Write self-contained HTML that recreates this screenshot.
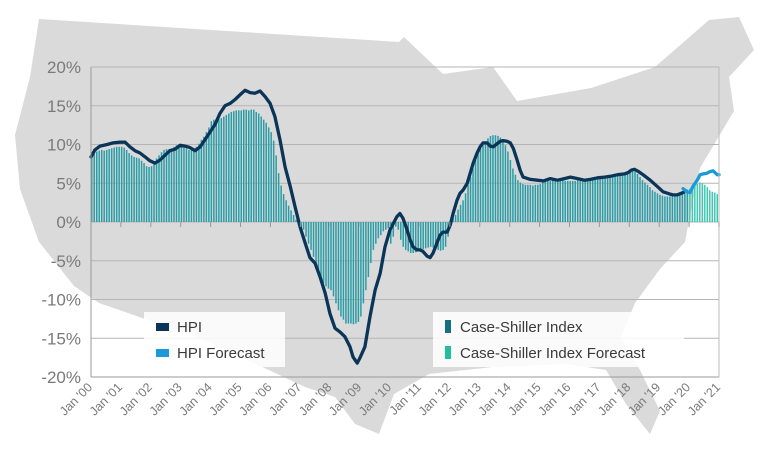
<!DOCTYPE html>
<html><head><meta charset="utf-8"><style>
html,body{margin:0;padding:0;background:#fff;}
body{width:763px;height:451px;overflow:hidden;font-family:"Liberation Sans",sans-serif;}
svg text{font-family:"Liberation Sans",sans-serif;}
</style></head><body>
<svg id="chart" width="763" height="451" viewBox="0 0 763 451" xmlns="http://www.w3.org/2000/svg">
<polygon fill="#dadada" points="39,19 399,42 404,37 443,74 493,67 517,101 591,88 655,67 709,20 739,17 754,50 729,77 734,111 700,168 690,215 685,242 660,269 635,303 621,337 640,370 660,411 650,434 626,404 606,370 567,364 493,367 429,374 394,394 379,434 355,424 335,397 305,387 256,364 197,337 148,320 99,303 74,286 39,242 20,189 15,135 30,77"/>
<g id="grid"></g>
<g id="bars"></g>
<g id="lines"></g>
<g id="axes"></g>
<g id="legend"></g>
</svg>
<script>
const csStartYear = 2000;
const csHist = [
8.4,8.8,9.1,9.2,9.3,9.2,9.3,9.4,9.5,9.6,9.7,9.7,
9.7,9.6,9.3,8.9,8.6,8.4,8.3,8.2,7.9,7.6,7.2,7.1,
7.2,7.6,8.2,8.6,9.0,9.3,9.4,9.4,9.5,9.7,9.9,10.0,
9.9,9.8,9.5,9.3,9.3,9.4,9.7,10.1,10.6,11.0,11.6,12.2,
13.0,13.2,13.2,13.3,13.4,13.6,13.8,14.0,14.2,14.3,14.4,14.4,
14.4,14.5,14.5,14.4,14.5,14.5,14.2,14.0,13.6,13.2,12.8,12.2,
11.6,10.5,8.6,6.3,4.7,3.6,2.8,2.1,1.5,0.9,0.3,-0.3,
-0.6,-1.0,-1.9,-2.8,-3.6,-4.5,-5.3,-6.2,-7.1,-7.9,-8.3,-8.6,
-8.8,-9.6,-10.5,-11.4,-12.2,-12.6,-13.1,-13.1,-13.1,-13.2,-13.1,-12.9,
-12.2,-10.5,-8.8,-7.1,-5.3,-3.6,-2.8,-2.1,-1.7,-1.2,-1.0,-0.8,
-2.8,-1.9,-0.6,-1.0,-2.3,-3.2,-3.6,-3.8,-4.0,-4.0,-3.9,-3.8,
-3.6,-3.5,-3.4,-3.3,-3.2,-3.3,-3.4,-3.6,-3.7,-3.6,-3.2,-1.9,
-0.4,0.5,0.9,1.6,2.2,2.8,3.7,4.8,5.8,6.9,8.0,8.9,
9.5,9.9,10.4,10.8,11.1,11.2,11.2,11.1,10.9,10.6,9.9,9.1,
8.0,6.9,6.1,5.4,5.1,4.9,4.8,4.8,4.8,4.7,4.8,4.8,
4.9,5.1,5.2,5.3,5.3,5.4,5.5,5.5,5.5,5.4,5.3,5.3,
5.3,5.3,5.3,5.4,5.4,5.5,5.5,5.6,5.6,5.6,5.7,5.7,
5.8,5.8,5.8,5.9,5.9,6.0,6.0,6.1,6.1,6.2,6.2,6.3,
6.5,6.6,6.5,6.2,5.8,5.4,5.1,4.8,4.5,4.1,3.9,3.7,
3.5,3.4,3.3,3.3,3.3,3.3,3.4,3.4,3.6,3.8,4.0,4.2];
const csForecast = [4.3,4.5,4.6,4.9,5.1,5.0,4.8,4.5,4.1,3.9,3.8,3.6];
const hpiDates = [2000.0,2000.13,2000.30,2000.54,2000.74,2000.97,2001.14,2001.30,2001.47,2001.64,2001.81,2001.97,2002.14,2002.31,2002.47,2002.64,2002.81,2002.98,2003.14,2003.31,2003.48,2003.65,2003.81,2003.98,2004.15,2004.31,2004.48,2004.65,2004.82,2004.98,2005.15,2005.32,2005.48,2005.65,2005.82,2005.99,2006.15,2006.32,2006.49,2006.66,2006.82,2006.99,2007.16,2007.32,2007.49,2007.66,2007.83,2007.99,2008.16,2008.33,2008.49,2008.66,2008.76,2008.90,2009.00,2009.16,2009.33,2009.50,2009.67,2009.83,2010.00,2010.23,2010.33,2010.43,2010.57,2010.67,2010.77,2010.90,2011.00,2011.10,2011.24,2011.34,2011.44,2011.57,2011.67,2011.77,2011.91,2012.01,2012.11,2012.24,2012.34,2012.44,2012.58,2012.68,2012.78,2012.91,2013.01,2013.11,2013.25,2013.35,2013.45,2013.58,2013.68,2013.78,2013.92,2014.02,2014.12,2014.25,2014.35,2014.45,2014.69,2014.92,2015.13,2015.36,2015.60,2015.83,2016.03,2016.27,2016.50,2016.70,2016.94,2017.17,2017.37,2017.61,2017.84,2017.97,2018.07,2018.17,2018.31,2018.46,2018.70,2018.93,2019.13,2019.36,2019.46,2019.60,2019.80];
const hpiValues = [8.4,9.3,9.8,10.0,10.2,10.3,10.3,9.7,9.2,8.9,8.4,7.9,7.6,8.0,8.6,9.2,9.4,9.9,9.8,9.6,9.2,9.7,10.6,11.6,12.6,14.0,15.0,15.3,15.8,16.4,17.0,16.7,16.6,16.9,16.2,15.3,13.6,10.6,7.1,4.6,2.0,-0.6,-2.7,-4.6,-5.3,-7.1,-9.2,-11.8,-13.7,-14.2,-14.8,-16.1,-17.4,-18.2,-17.5,-16.1,-12.2,-8.8,-6.6,-3.2,-1.0,0.7,1.1,0.5,-1.0,-2.3,-3.2,-3.6,-3.6,-3.8,-4.4,-4.6,-4.0,-2.7,-1.7,-1.3,-1.3,-0.4,1.1,2.8,3.7,4.1,5.0,6.3,7.6,8.9,9.7,10.2,10.2,9.8,9.7,10.1,10.4,10.5,10.4,10.2,9.5,8.0,6.7,5.8,5.5,5.4,5.3,5.6,5.4,5.6,5.8,5.6,5.4,5.5,5.7,5.8,5.9,6.1,6.2,6.4,6.7,6.8,6.5,6.1,5.4,4.6,3.9,3.6,3.5,3.5,3.8,4.3];
const fcDates = [2019.80,2019.93,2020.03,2020.13,2020.27,2020.37,2020.47,2020.60,2020.70,2020.80,2020.94,2021.0];
const fcValues = [4.3,3.9,3.8,4.6,5.4,6.1,6.2,6.3,6.5,6.6,6.1,6.1];
const yTicks = [20,15,10,5,0,-5,-10,-15,-20];
const xTickLabels = ["Jan '00","Jan '01","Jan '02","Jan '03","Jan '04","Jan '05","Jan '06","Jan '07","Jan '08","Jan '09","Jan '10","Jan '11","Jan '12","Jan '13","Jan '14","Jan '15","Jan '16","Jan '17","Jan '18","Jan '19","Jan '20","Jan '21"];

const NS = "http://www.w3.org/2000/svg";
const X0 = 91, X1 = 719, Y20 = 67, Y0 = 222;
function xs(t){ return X0 + (t - 2000) / 21 * (X1 - X0); }
function ys(v){ return Y0 - v * (Y0 - Y20) / 20; }
function mk(tag, attrs, parent){ const e = document.createElementNS(NS, tag); for (const k in attrs) e.setAttribute(k, attrs[k]); parent.appendChild(e); return e; }

const grid = document.getElementById('grid');
const axes = document.getElementById('axes');
yTicks.forEach(v => {
  const l = mk('line', {x1: X0, x2: X1, y1: ys(v), y2: ys(v), stroke: '#b5b5b5', 'stroke-width': 1}, grid);
  
  
  const t = mk('text', {x: 81, y: ys(v) + 6, 'text-anchor': 'end', 'font-size': 17, fill: '#7a7a7a'}, axes);
  t.textContent = v + '%';
  
  
});
const ax = mk('line', {x1: X0, x2: X0, y1: Y20, y2: ys(-20), stroke: '#999', 'stroke-width': 1}, axes);


const bx = mk('line', {x1: X0, x2: X1, y1: ys(-20), y2: ys(-20), stroke: '#999', 'stroke-width': 1}, axes);


const rx = mk('line', {x1: X1, x2: X1, y1: Y20, y2: ys(-20), stroke: '#bbb', 'stroke-width': 1}, axes);


xTickLabels.forEach((s, i) => {
  const x = xs(2000 + i);
  const tk = mk('line', {x1: x, x2: x, y1: Y0, y2: Y0 + 5, stroke: '#999', 'stroke-width': 1}, axes);
  
  
  const t = mk('text', {x: x + 2, y: 388, 'text-anchor': 'end', 'font-size': 12.5, fill: '#7a7a7a', transform: 'rotate(-45 ' + (x + 2) + ' 388)'}, axes);
  t.textContent = s;
  
  
});

const bars = document.getElementById('bars');
const bw = (X1 - X0) / 252;
function drawBar(v, idx, color, name){
  const x = xs(csStartYear + idx / 12);
  const y = Math.min(ys(v), Y0), h = Math.abs(ys(v) - Y0);
  const r = mk('rect', {x: x, y: y, width: bw * 0.6, height: Math.max(h, 0.5), fill: color}, bars);
  
  
}
csHist.forEach((v, i) => drawBar(v, i, '#2a9ca6', 'case-shiller-bar'));
csForecast.forEach((v, i) => drawBar(v, csHist.length + i, '#3dc9b0', 'case-shiller-forecast-bar'));

const lines = document.getElementById('lines');
function pathD(ds, vs){ return ds.map((d, i) => (i ? 'L' : 'M') + xs(d).toFixed(1) + ',' + ys(vs[i]).toFixed(1)).join(''); }
const hp = mk('path', {d: pathD(hpiDates, hpiValues), fill: 'none', stroke: '#0b3558', 'stroke-width': 3.3, 'stroke-linejoin': 'round', 'stroke-linecap': 'round'}, lines);


const fp = mk('path', {d: pathD(fcDates, fcValues), fill: 'none', stroke: '#1a9ad8', 'stroke-width': 3.3, 'stroke-linejoin': 'round', 'stroke-linecap': 'round'}, lines);



const lg = document.getElementById('legend');
function box(x, y, w, h, name){
  const r = mk('rect', {x: x, y: y, width: w, height: h, fill: '#ffffff', 'fill-opacity': 0.85}, lg);
  
  
}
box(144, 312, 141, 55, 'hpi-legend');
box(433, 312, 251, 55, 'case-shiller-legend');
function entry(mx, my, mw, mh, color, tx, ty, label, name){
  const m = mk('rect', {x: mx, y: my, width: mw, height: mh, fill: color}, lg);
  
  
  const t = mk('text', {x: tx, y: ty, 'font-size': 15, fill: '#3a3a3a'}, lg);
  t.textContent = label;
  
  
}
entry(156, 323, 13, 8, '#0b3558', 177, 332, 'HPI', 'legend-hpi');
entry(156, 349, 13, 8, '#1a9ad8', 177, 358, 'HPI Forecast', 'legend-hpi-forecast');
entry(445, 320, 6, 13, '#156f82', 460, 332, 'Case-Shiller Index', 'legend-case-shiller');
entry(445, 346, 6, 13, '#1fbf9d', 460, 358, 'Case-Shiller Index Forecast', 'legend-case-shiller-forecast');
</script>
</body></html>
